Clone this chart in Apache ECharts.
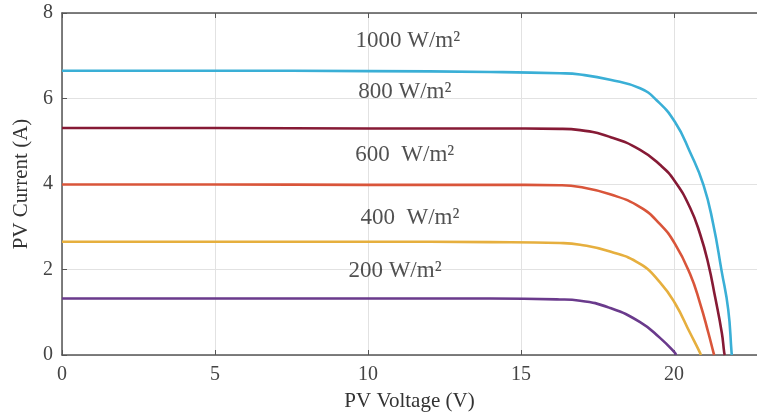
<!DOCTYPE html>
<html>
<head>
<meta charset="utf-8">
<script src="https://cdn.jsdelivr.net/npm/echarts@6/dist/echarts.min.js"></script>
<style>html,body{margin:0;padding:0;background:#fff}#c{width:757px;height:417px}</style>
</head>
<body>
<div id="c"></div>
<script>
// Data (PV voltage in V, PV current in A)
const v1000 = [0, 5, 10, 14, 16.27, 16.93, 17.91, 18.89, 19.43, 20.03, 20.52, 20.96, 21.28, 21.55, 21.77, 21.88, 21.89];
const i1000 = [6.65, 6.65, 6.64, 6.62, 6.59, 6.56, 6.44, 6.24, 5.96, 5.45, 4.75, 3.98, 3.06, 1.98, 1.06, 0.05, 0];
const v800 = [0, 5, 10, 14, 16.27, 16.93, 17.91, 18.89, 19.54, 20.03, 20.52, 20.85, 21.12, 21.34, 21.56, 21.64, 21.66];
const i800 = [5.31, 5.31, 5.30, 5.30, 5.29, 5.26, 5.10, 4.80, 4.45, 4.06, 3.45, 2.83, 2.13, 1.36, 0.52, 0.05, 0];
const v600 = [0, 5, 10, 14, 16.27, 16.93, 17.91, 18.89, 19.54, 20.03, 20.52, 20.85, 21.12, 21.29, 21.31];
const i600 = [3.99, 3.99, 3.98, 3.98, 3.97, 3.93, 3.76, 3.46, 3.06, 2.60, 1.90, 1.21, 0.52, 0.05, 0];
const v400 = [0, 5, 10, 14, 16.27, 16.93, 17.91, 18.89, 19.54, 20.03, 20.52, 20.85, 20.87];
const i400 = [2.65, 2.65, 2.65, 2.64, 2.62, 2.58, 2.42, 2.13, 1.70, 1.21, 0.52, 0.05, 0];
const v200 = [0, 5, 10, 14, 16.27, 16.93, 17.91, 18.89, 19.54, 20.03, 20.06];
const i200 = [1.32, 1.32, 1.32, 1.32, 1.30, 1.27, 1.10, 0.77, 0.40, 0.05, 0];

const seriesNames = ['1000 W/m²', '800 W/m²', '600 W/m²', '400 W/m²', '200 W/m²'];
const labelTexts = ['1000 W/m²', '800 W/m²', '600  W/m²', '400  W/m²', '200 W/m²'];
const labelX = [11.3, 11.2, 11.2, 11.37, 10.88];
const labelY = [7.35, 6.15, 4.67, 3.21, 1.97];
const xTicks = [0, 5, 10, 15, 20];
const yTicks = [0, 2, 4, 6, 8];

const colors = ['#3aafd6', '#861a35', '#d9553a', '#e6af3e', '#6a3a8c'];
const V = [v1000, v800, v600, v400, v200];
const I = [i1000, i800, i600, i400, i200];

const font = '"Liberation Serif", "DejaVu Serif", serif';
const chart = echarts.init(document.getElementById('c'), null, {renderer: 'canvas'});

const series = V.map((vs, k) => ({
  name: seriesNames[k],
  type: 'line',
  data: vs.map((v, j) => [v, I[k][j]]),
  showSymbol: false,
  smooth: 0.5,
  lineStyle: {color: colors[k], width: 2.6},
  itemStyle: {color: colors[k]},
  z: 3
}));

series.push({
  type: 'scatter',
  symbolSize: 0,
  silent: true,
  data: labelTexts.map((t, k) => ({value: [labelX[k], labelY[k]], name: t})),
  label: {
    show: true, position: 'inside',
    formatter: p => p.name,
    fontFamily: font, fontSize: 23, color: '#262626'
  },
  z: 5
});

chart.setOption({
  animation: false,
  backgroundColor: '#fff',
  grid: {left: 62, top: 13, right: 0, bottom: 58, show: false},
  xAxis: [{
    type: 'value', min: 0, max: 22.71, interval: 5,
    name: 'PV Voltage (V)', nameLocation: 'middle', nameGap: 36,
    nameTextStyle: {fontFamily: font, fontSize: 21, color: '#333'},
    axisLine: {show: true, lineStyle: {color: '#555', width: 1.5}},
    axisTick: {show: true, inside: true, length: 5, lineStyle: {color: '#555'}},
    axisLabel: {fontFamily: font, fontSize: 20, color: '#444', margin: 10,
      showMaxLabel: false,
      formatter: v => xTicks.includes(v) ? String(v) : ''},
    splitLine: {show: true, lineStyle: {color: '#e2e2e2', width: 1}}
  }, {
    type: 'value', min: 0, max: 22.71, interval: 5, position: 'top',
    axisLine: {show: true, lineStyle: {color: '#555', width: 1.5}},
    axisLabel: {show: false}, splitLine: {show: false},
    axisTick: {show: true, inside: true, length: 5, lineStyle: {color: '#555'}}
  }],
  yAxis: {
    type: 'value', min: 0, max: 8, interval: 2,
    name: 'PV Current (A)', nameLocation: 'middle', nameGap: 29,
    nameTextStyle: {fontFamily: font, fontSize: 21, color: '#333'},
    axisLine: {show: true, lineStyle: {color: '#555', width: 1.5}},
    axisTick: {show: true, inside: true, length: 5, lineStyle: {color: '#555'}},
    axisLabel: {fontFamily: font, fontSize: 20, color: '#444', margin: 9,
      formatter: v => yTicks.includes(v) ? String(v) : ''},
    splitLine: {show: true, lineStyle: {color: '#e2e2e2', width: 1}}
  },
  series: series
});
</script>
</body>
</html>
